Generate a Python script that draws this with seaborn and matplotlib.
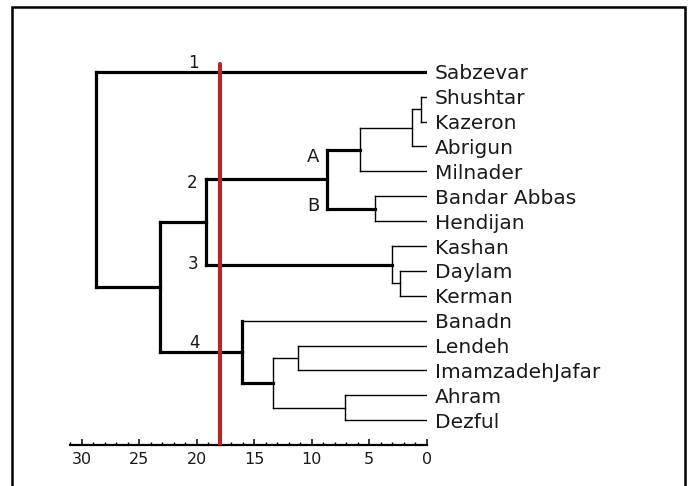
import matplotlib
matplotlib.use("Agg")
import matplotlib.pyplot as plt
import seaborn as sns
import numpy as np
import pandas as pd
from matplotlib.patches import Rectangle
from matplotlib.ticker import MultipleLocator

# ---------------- data ----------------
leaves = ["Sabzevar", "Shushtar", "Kazeron", "Abrigun", "Milnader",
          "Bandar Abbas", "Hendijan", "Kashan", "Daylam", "Kerman",
          "Banadn", "Lendeh", "ImamzadehJafar", "Ahram", "Dezful"]
# merges (scipy-like): children are leaf indices (0..14) or earlier clusters (15+k)
merge_a = [1, 15, 16, 5, 17, 8, 7, 19, 11, 13, 23, 10, 22, 0]
merge_b = [2, 3, 4, 6, 18, 9, 20, 21, 12, 14, 24, 25, 26, 27]
merge_h = [0.5, 1.3, 5.8, 4.5, 8.7, 2.3, 3.0, 19.2, 11.2, 7.1, 13.4, 16.1, 23.2, 28.8]
cutoff = 18
cluster_labels = ["1", "2", "3", "4", "A", "B"]
tick_values = [30, 25, 20, 15, 10, 5, 0]

# styles: which parts of each merge are emphasised (leg a, crossbar, leg b)
emph = [(0, 0, 0), (0, 0, 0), (0, 0, 0), (0, 0, 0), (1, 1, 1), (0, 0, 0), (0, 0, 0),
        (1, 1, 1), (0, 0, 0), (0, 0, 0), (0, 0, 0), (0, 1, 1), (1, 1, 1), (1, 1, 1)]
label_pos = [(20.32, -0.36), (20.43, 4.48), (20.32, 7.72), (20.15, 10.89),
             (9.89, 3.43), (9.89, 5.38)]
label_size = [12, 12, 12, 12, 13, 13]

# ---------------- build dendrogram segments ----------------
n = len(leaves)
ypos = {i: float(i) for i in range(n)}
hgt = {i: 0.0 for i in range(n)}
rows = []
seg = 0
for k, (a, b, h) in enumerate(zip(merge_a, merge_b, merge_h)):
    ya, yb = ypos[a], ypos[b]
    parts = [((hgt[a], h), (ya, ya)), ((h, h), (ya, yb)), ((hgt[b], h), (yb, yb))]
    for (xs, ys), e in zip(parts, emph[k]):
        for x, y in zip(xs, ys):
            rows.append({"x": x, "y": y, "seg": seg, "w": "thick" if e else "thin"})
        seg += 1
    c = n + k
    ypos[c] = (ya + yb) / 2
    hgt[c] = h
df = pd.DataFrame(rows)

# ---------------- figure ----------------
sns.set_theme(style="white")
plt.rcParams["font.family"] = ["DejaVu Sans"]
W, H = 690, 486
fig = plt.figure(figsize=(W / 100, H / 100), dpi=100)
ax = fig.add_axes([70.2 / W, 41 / H, 356.5 / W, 398 / H])

for s, g in df.groupby("seg"):
    thick = g["w"].iloc[0] == "thick"
    ax.plot(g["x"], g["y"], color="black", lw=2.3 if thick else 1.0,
            solid_capstyle="projecting", solid_joinstyle="miter", zorder=2)

ax.set_xlim(31, 0)
ax.set_ylim(15, -1)
ax.axvline(cutoff, ymin=0, ymax=(15 + 0.32) / 16, color="#b3262b", lw=3.0, zorder=3)

txt = "#1a1a1a"
for t, (x, y), fs in zip(cluster_labels, label_pos, label_size):
    ax.text(x, y, t, ha="center", va="center", fontsize=fs, color=txt)

# axes styling
for side in ["top", "right", "left"]:
    ax.spines[side].set_visible(False)
ax.spines["bottom"].set_linewidth(1.6)
ax.spines["bottom"].set_color("black")
ax.set_xticks(tick_values)
ax.set_xticklabels([str(v) for v in tick_values])
ax.xaxis.set_minor_locator(MultipleLocator(1))
ax.tick_params(axis="x", which="major", direction="in", length=4.5, width=1.1,
               labelsize=11.5, pad=5, color="black", bottom=True, labelcolor=txt)
ax.tick_params(axis="x", which="minor", direction="in", length=2.5, width=1.0,
               color="black", bottom=True)
ax.set_yticks(range(n))
ax.set_yticklabels(leaves)
ax.yaxis.tick_right()
ax.tick_params(axis="y", length=0, pad=6, labelsize=14.5, labelcolor=txt)
ax.grid(False)

fig.patches.append(Rectangle((12 / W, -0.1), (685 - 12) / W, 1 - 7 / H + 0.1,
                             transform=fig.transFigure, fill=False,
                             lw=1.8, edgecolor="black"))

fig.savefig("out.png", dpi=100)
